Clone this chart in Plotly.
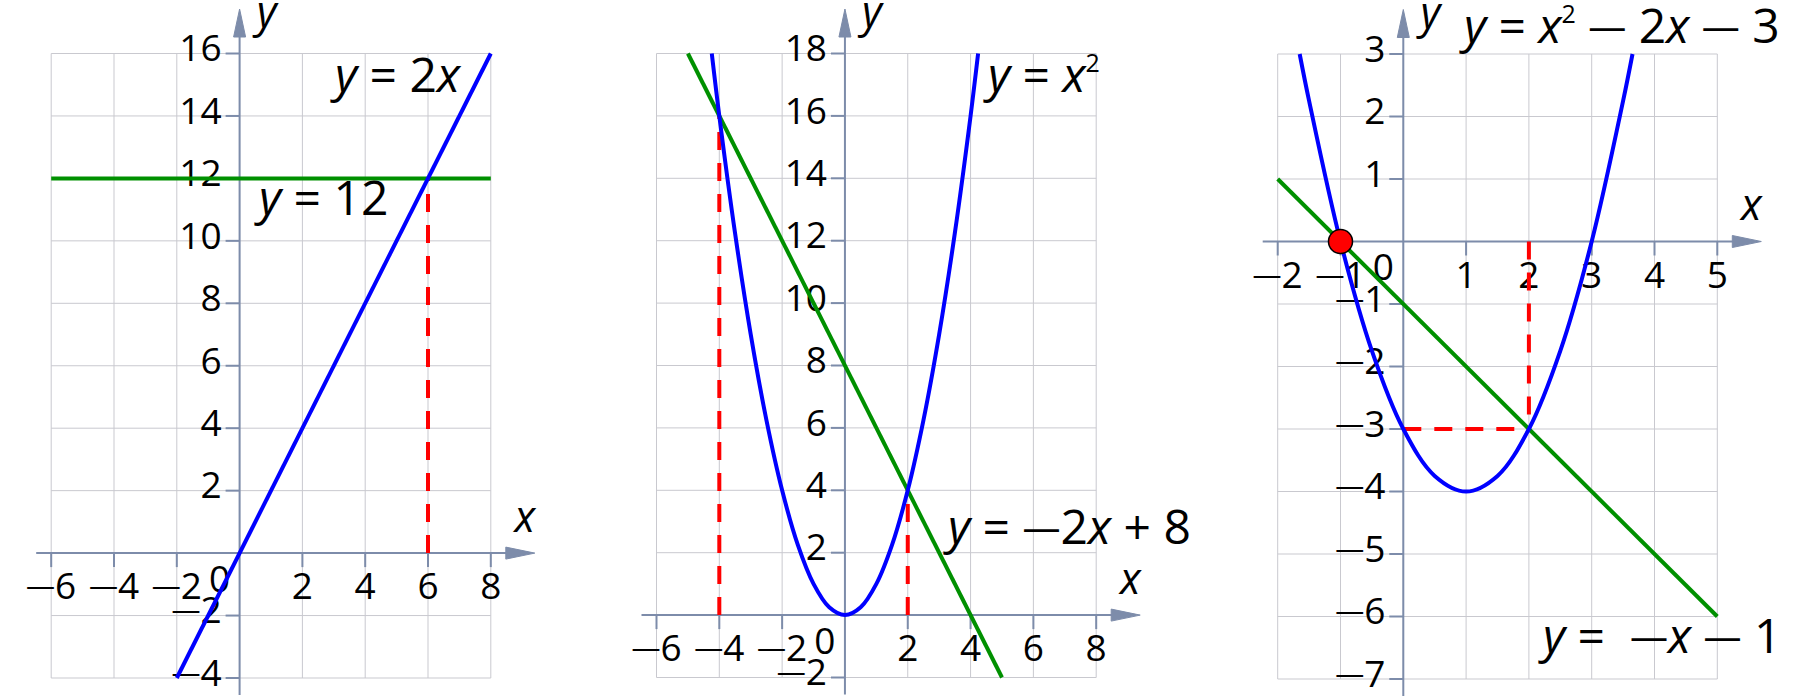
import plotly.graph_objects as go

# ------------------------------------------------------------------ data
M = "\u2014"  # dash used as minus sign
# Panel 1 : y = 2x  and  y = 12
p1_grid_x = [-6, -4, -2, 0, 2, 4, 6, 8]
p1_grid_y = [-4, -2, 0, 2, 4, 6, 8, 10, 12, 14, 16]
p1_xticks = [-6, -4, -2, 2, 4, 6, 8]
p1_xticklabels = [M + "6", M + "4", M + "2", "2", "4", "6", "8"]
p1_yticks = [16, 14, 12, 10, 8, 6, 4, 2, -2, -4]
p1_yticklabels = ["16", "14", "12", "10", "8", "6", "4", "2", M + "2", M + "4"]
p1_blue_x = [-2, 8]
p1_blue_y = [-4, 16]
p1_green_x = [-6, 8]
p1_green_y = [12, 12]
p1_red_x = [6, 6]
p1_red_y = [0, 12]

# Panel 2 : y = x^2  and  y = -2x + 8
p2_grid_x = [-6, -4, -2, 0, 2, 4, 6, 8]
p2_grid_y = [-2, 0, 2, 4, 6, 8, 10, 12, 14, 16, 18]
p2_xticks = [-6, -4, -2, 2, 4, 6, 8]
p2_xticklabels = [M + "6", M + "4", M + "2", "2", "4", "6", "8"]
p2_yticks = [18, 16, 14, 12, 10, 8, 6, 4, 2, -2]
p2_yticklabels = ["18", "16", "14", "12", "10", "8", "6", "4", "2", M + "2"]
p2_blue_x = [-4.24, -4, -3.5, -3, -2.5, -2, -1.5, -1, -0.5, 0, 0.5, 1, 1.5, 2, 2.5, 3, 3.5, 4, 4.24]
p2_blue_y = [18, 16, 12.25, 9, 6.25, 4, 2.25, 1, 0.25, 0, 0.25, 1, 2.25, 4, 6.25, 9, 12.25, 16, 18]
p2_green_x = [-5, 5]
p2_green_y = [18, -2]
p2_red1_x = [-4, -4]
p2_red1_y = [0, 16]
p2_red2_x = [2, 2]
p2_red2_y = [0, 4]

# Panel 3 : y = x^2 - 2x - 3  and  y = -x - 1
p3_grid_x = [-2, -1, 0, 1, 2, 3, 4, 5]
p3_grid_y = [-7, -6, -5, -4, -3, -2, -1, 0, 1, 2, 3]
p3_xticks = [-2, -1, 1, 2, 3, 4, 5]
p3_xticklabels = [M + "2", M + "1", "1", "2", "3", "4", "5"]
p3_yticks = [3, 2, 1, -1, -2, -3, -4, -5, -6, -7]
p3_yticklabels = ["3", "2", "1", M + "1", M + "2", M + "3", M + "4", M + "5", M + "6", M + "7"]
p3_blue_x = [-1.65, -1.5, -1, -0.5, 0, 0.5, 1, 1.5, 2, 2.5, 3, 3.5, 3.65]
p3_blue_y = [3, 2.25, 0, -1.75, -3, -3.75, -4, -3.75, -3, -1.75, 0, 2.25, 3]
p3_green_x = [-2, 5]
p3_green_y = [1, -6]
p3_red1_x = [2, 2]
p3_red1_y = [0, -3]
p3_red2_x = [0, 2]
p3_red2_y = [-3, -3]
p3_point_x = [-1]
p3_point_y = [0]

# equation labels
eq_p1 = ["<i>y</i> = 2<i>x</i>", "<i>y</i> = 12"]
eq_p2 = ["<i>y</i> = <i>x</i><sup>2</sup>", "<i>y</i> = " + M + "2<i>x</i> + 8"]
eq_p3 = ["<i>y</i> = <i>x</i><sup>2</sup> " + M + " 2<i>x</i> " + M + " 3",
         "<i>y</i> =  " + M + "<i>x</i> " + M + " 1"]

# ------------------------------------------------------------------ styles
W, H = 1800, 700
FONT = "Open Sans"
AXIS_C = "#7d8caa"
GRID_C = "#c9c9cf"
BLUE = "#0000ff"
GREEN = "#009000"
RED = "#ff0000"
TICK_FS = 37
LET_FS = 43
EQ_FS = 48


def styled(s, dash_px, shift_px, sup_px=25):
    s = s.replace(M, '<span style="font-size:%dpx;baseline-shift:%dpx">%s</span>'
                  % (dash_px, shift_px, M))
    return s.replace("<sup>2</sup>", '<sup><span style="font-size:%dpx">2</span></sup>' % sup_px)


panels = [
    dict(dom=(0, 600), cal_x=(-6, 51.2, 8, 490.8), cal_y=(16, 53.5, -4, 678.0),
         grid_x=p1_grid_x, grid_y=p1_grid_y,
         xt=p1_xticks, xtl=p1_xticklabels, yt=p1_yticks, ytl=p1_yticklabels,
         reds=[(p1_red_x, p1_red_y)], greens=[(p1_green_x, p1_green_y)],
         blues=[(p1_blue_x, p1_blue_y, "linear")], point=None,
         eqs=eq_p1, eq_pos=[(335, 80), (259, 203)]),
    dict(dom=(600, 1200), cal_x=(-6, 656.5, 8, 1096.2), cal_y=(18, 53.5, -2, 677.5),
         grid_x=p2_grid_x, grid_y=p2_grid_y,
         xt=p2_xticks, xtl=p2_xticklabels, yt=p2_yticks, ytl=p2_yticklabels,
         reds=[(p2_red1_x, p2_red1_y), (p2_red2_x, p2_red2_y)],
         greens=[(p2_green_x, p2_green_y)],
         blues=[(p2_blue_x, p2_blue_y, "spline")], point=None,
         eqs=eq_p2, eq_pos=[(988, 80), (948, 532)]),
    dict(dom=(1200, 1800), cal_x=(-2, 1277.7, 5, 1717.3), cal_y=(3, 54.0, -7, 679.0),
         grid_x=p3_grid_x, grid_y=p3_grid_y,
         xt=p3_xticks, xtl=p3_xticklabels, yt=p3_yticks, ytl=p3_yticklabels,
         reds=[(p3_red1_x, p3_red1_y), (p3_red2_x, p3_red2_y)],
         greens=[(p3_green_x, p3_green_y)],
         blues=[(p3_blue_x, p3_blue_y, "spline")], point=(p3_point_x, p3_point_y),
         eqs=eq_p3, eq_pos=[(1464, 31), (1543, 641)]),
]

fig = go.Figure()
layout = dict(width=W, height=H, margin=dict(l=0, r=0, t=0, b=0),
              paper_bgcolor="white", plot_bgcolor="white", showlegend=False)

for i, P in enumerate(panels):
    n = "" if i == 0 else str(i + 1)
    xa, ya = "x" + n, "y" + n
    x1, px1, x2, px2 = P["cal_x"]
    y1, py1, y2, py2 = P["cal_y"]
    sx = (px2 - px1) / (x2 - x1)
    sy = (py2 - py1) / (y1 - y2)
    xd = lambda p, x1=x1, px1=px1, sx=sx: x1 + (p - px1) / sx
    yd = lambda p, y1=y1, py1=py1, sy=sy: y1 - (p - py1) / sy
    d0, d1 = P["dom"]
    layout["xaxis" + n] = dict(domain=[d0 / W, d1 / W], range=[xd(d0), xd(d1)],
                               visible=False, fixedrange=True, anchor=ya)
    layout["yaxis" + n] = dict(domain=[0, 1], range=[yd(H), yd(0)],
                               visible=False, fixedrange=True, anchor=xa)
    gx, gy = P["grid_x"], P["grid_y"]
    gxmin, gxmax, gymin, gymax = min(gx), max(gx), min(gy), max(gy)

    def add(tr):
        tr.update(xaxis=xa, yaxis=ya, hoverinfo="skip")
        fig.add_trace(tr)

    def text(x, y, t, pos, font):
        add(go.Scatter(x=x, y=y, mode="text", text=t, textposition=pos,
                       cliponaxis=False, marker=dict(size=0), textfont=font))

    # grid
    lx, ly = [], []
    for v in gx:
        lx += [v, v, None]; ly += [gymin, gymax, None]
    for v in gy:
        lx += [gxmin, gxmax, None]; ly += [v, v, None]
    add(go.Scatter(x=lx, y=ly, mode="lines", line=dict(color=GRID_C, width=1)))

    # tick labels (under the curves)
    tfont = dict(family=FONT, size=TICK_FS, color="black")
    text(P["xt"], [-37 / sy] * len(P["xt"]), [styled(s, 29, 3) for s in P["xtl"]],
         "middle center", tfont)
    text([-18 / sx] * len(P["yt"]), [v + 1.5 / sy for v in P["yt"]],
         [styled(s, 29, 3) for s in P["ytl"]], "middle left", tfont)
    text([-20 / sx], [-29.5 / sy], ["0"], "middle center", tfont)

    # axes
    x_tip = gxmax + 44 / sx
    y_tip = gymax + 44.5 / sy
    add(go.Scatter(x=[gxmin - 15 / sx, x_tip - 10 / sx, None, 0, 0],
                   y=[0, 0, None, gymin - 17 / sy, y_tip - 10 / sy],
                   mode="lines", line=dict(color=AXIS_C, width=2)))
    tx, ty = [], []
    for v in P["xt"]:
        tx += [v, v, None]; ty += [0, -14 / sy, None]
    for v in P["yt"]:
        tx += [0, -14 / sx, None]; ty += [v, v, None]
    add(go.Scatter(x=tx, y=ty, mode="lines", line=dict(color=AXIS_C, width=2)))
    add(go.Scatter(x=[x_tip, x_tip - 29 / sx, x_tip - 29 / sx, x_tip],
                   y=[0, 6 / sy, -6 / sy, 0], mode="lines", fill="toself",
                   fillcolor=AXIS_C, line=dict(color=AXIS_C, width=1)))
    add(go.Scatter(x=[0, 6 / sx, -6 / sx, 0],
                   y=[y_tip, y_tip - 28 / sy, y_tip - 28 / sy, y_tip], mode="lines",
                   fill="toself", fillcolor=AXIS_C, line=dict(color=AXIS_C, width=1)))

    # curves
    for rx, ry in P["reds"]:
        add(go.Scatter(x=rx, y=ry, mode="lines",
                       line=dict(color=RED, width=4, dash="18px,13px")))
    for gxs, gys in P["greens"]:
        add(go.Scatter(x=gxs, y=gys, mode="lines", line=dict(color=GREEN, width=4)))
    for bx, by, shp in P["blues"]:
        add(go.Scatter(x=bx, y=by, mode="lines",
                       line=dict(color=BLUE, width=4, shape=shp)))
    if P["point"] is not None:
        add(go.Scatter(x=P["point"][0], y=P["point"][1], mode="markers", cliponaxis=False,
                       marker=dict(size=24, color=RED, line=dict(color="black", width=1.5))))

    # axis letters
    lfont = dict(family=FONT, size=LET_FS, color="black")
    text([gxmax + 34 / sx], [32 / sy], ["<i>x</i>"], "middle center", lfont)
    text([27 / sx], [gymax + 37 / sy], ["<i>y</i>"], "middle center", lfont)

    # equations
    efont = dict(family=FONT, size=EQ_FS, color="black")
    for txt, (lpx, cpy) in zip(P["eqs"], P["eq_pos"]):
        text([xd(lpx)], [yd(cpy)], [styled(txt, 38, 3)], "middle right", efont)

fig.update_layout(**layout)
fig.write_html("out.html")
